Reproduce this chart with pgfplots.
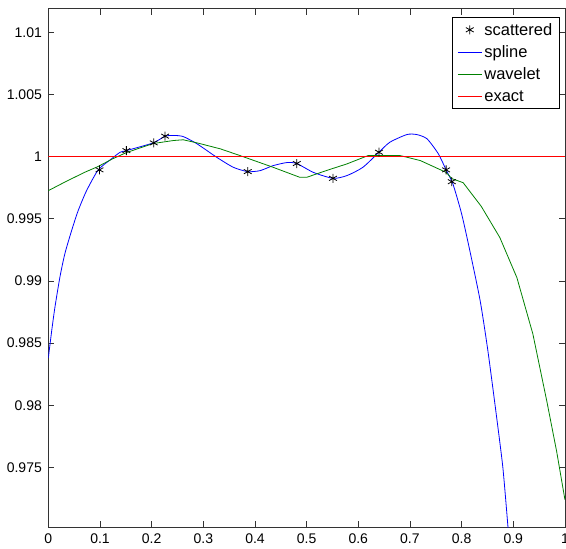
\documentclass[border=0pt]{standalone}
\usepackage{fontspec}
\setmainfont{Liberation Sans}
\usepackage{pgfplots}
\pgfplotsset{compat=1.18}
\begin{document}
\begin{tikzpicture}
\useasboundingbox (-48.4pt,-21.3pt) rectangle (518.1pt,527.6pt);
\begin{axis}[
  at={(0pt,0pt)}, anchor=south west,
  scale only axis,
  width=517pt, height=519pt,
  xmin=0, xmax=1, ymin=0.9702, ymax=1.0119,
  xtick={0,0.1,0.2,0.3,0.4,0.5,0.6,0.7,0.8,0.9,1},
  ytick={0.975,0.98,0.985,0.99,0.995,1,1.005,1.01},
  /pgf/number format/assume math mode=true,
  /pgf/number format/precision=3,
  tick label style={font=\fontsize{14}{16}\selectfont},
  yticklabel style={xshift=-3pt},
  xticklabel style={yshift=-3pt},
  tick align=inside,
  major tick length=6pt,
  axis line style={black!80, line width=0.8pt},
  major tick style={black!80, line width=0.8pt},
  legend image code/.code={\draw[mark repeat=2,mark phase=2,#1,line width=1.3pt] plot coordinates {(0pt,0pt) (12pt,0pt) (24pt,0pt)};},
  legend style={at={(1,1)}, anchor=north east, xshift=-5.5pt, yshift=-8.3pt, draw=black, fill=white,
    font=\fontsize{16.5}{18}\selectfont, row sep=5pt, inner xsep=5pt, inner ysep=4pt},
  legend cell align=left,
]
\addplot[only marks, mark=asterisk, mark size=4.5pt, mark options={draw=black, line width=0.8pt}] coordinates {
(0.099,0.99893) (0.151,1.00048) (0.204,1.0011) (0.226,1.00164) (0.386,0.99879)
(0.481,0.99944) (0.551,0.99825) (0.640,1.00035) (0.770,0.99893) (0.781,0.99798)
};
\addlegendentry{scattered}
\addplot[blue, line width=0.8pt, smooth, tension=0.4] coordinates {
(0,0.98382) (0.0064,0.98597) (0.0126,0.98785) (0.0222,0.99027) (0.0319,0.99218)
(0.0449,0.99403) (0.0577,0.99565) (0.074,0.99726) (0.0966,0.99893) (0.122,0.99981)
(0.139,1.00035) (0.151,1.00048) (0.203,1.0011) (0.226,1.00164) (0.242,1.0017)
(0.261,1.00161) (0.288,1.00102) (0.326,0.99994) (0.358,0.99914) (0.386,0.99879)
(0.41,0.99887) (0.435,0.99927) (0.462,0.99952) (0.481,0.99944) (0.513,0.99873)
(0.551,0.99825) (0.578,0.99847) (0.609,0.99914) (0.640,1.00035) (0.661,1.00115)
(0.694,1.00177) (0.713,1.00177) (0.733,1.00143) (0.755,1.00022) (0.770,0.99893)
(0.783,0.99782) (0.800,0.9954) (0.816,0.99242) (0.836,0.98839) (0.851,0.98435)
(0.868,0.97898) (0.880,0.97494) (0.890,0.9701) (0.893,0.9685)
};
\addlegendentry{spline}
\addplot[green!50!black, line width=0.8pt] coordinates {
(0,0.99726) (0.031,0.99793) (0.07,0.99873) (0.0957,0.99919) (0.124,0.99981) (0.151,1.00032)
(0.203,1.00105) (0.242,1.00129)
(0.261,1.00135) (0.288,1.0011) (0.333,1.00062) (0.371,1.00008) (0.435,0.99914)
(0.487,0.99833) (0.500,0.99833) (0.540,0.9989) (0.578,0.99941) (0.619,1.00008) (0.681,1.00008)
(0.720,0.99968) (0.770,0.99873) (0.781,0.99823) (0.803,0.9979) (0.838,0.9960)
(0.874,0.99349) (0.907,0.99027) (0.938,0.98573) (0.965,0.98032) (0.984,0.97629)
(1.0,0.97242)
};
\addlegendentry{wavelet}
\addplot[red, line width=1.3pt] coordinates {(0,1) (0.5,1) (1,1)};
\addlegendentry{exact}
\end{axis}
\end{tikzpicture}
\end{document}
